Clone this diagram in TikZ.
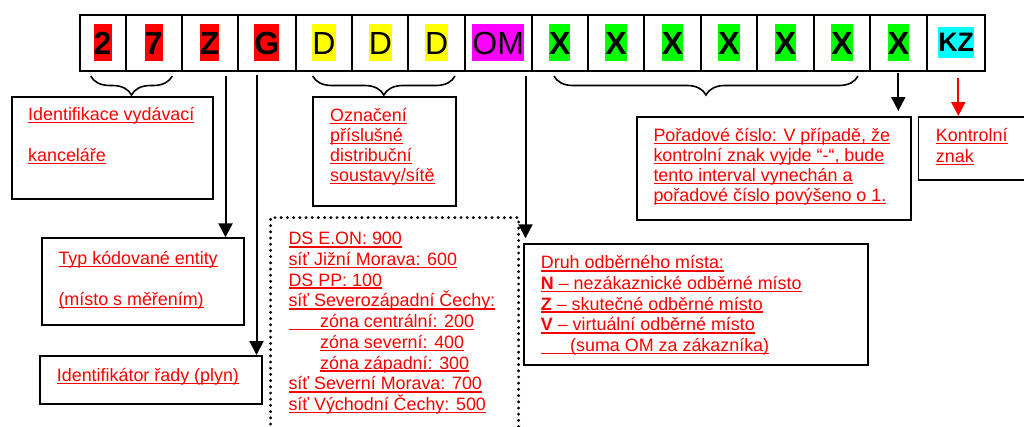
\documentclass[tikz,border=0pt]{standalone}
\usepackage{fontspec}
\setmainfont{Liberation Sans}
\usetikzlibrary{arrows.meta,decorations.pathreplacing}
\definecolor{hlred}{RGB}{255,0,0}
\definecolor{hlyellow}{RGB}{255,255,0}
\definecolor{hlmag}{RGB}{255,0,255}
\definecolor{hlgreen}{RGB}{0,255,0}
\definecolor{hlcyan}{RGB}{0,255,255}
\newcommand\ulx[1]{\leavevmode{\setbox0\hbox{#1}\rlap{\rule[-2.8pt]{\wd0}{1.6pt}}\box0}}
\newcommand\hlbox[2]{{\setlength\fboxsep{0pt}\colorbox{#1}{\rule[-6.5pt]{0pt}{37pt}#2}}}
\newcommand\hlsmall[2]{{\setlength\fboxsep{0pt}\colorbox{#1}{\rule[-6.7pt]{0pt}{31pt}#2}}}
\newcommand\txtlines[2]{\parbox[t]{360pt}{\baselineskip=#1\relax\leavevmode #2}}
\tikzset{
  cell/.style={draw, line width=2pt, inner sep=0pt, minimum height=56pt,
    font=\fontsize{32}{37}\selectfont},
  labelbox/.style={draw, line width=1.8pt, inner sep=0pt, anchor=north west},
  dotbox/.style={draw, line width=3.2pt, dash pattern=on 0pt off 6.2pt, line cap=round,
    inner sep=0pt, anchor=north west},
  lbl/.style={text=hlred, inner sep=0pt, anchor=base west, font=\fontsize{17.9}{20.5}\selectfont},
  bracestyle/.style={decorate, decoration={brace, mirror, amplitude=19pt}, line width=1.6pt},
  arr/.style={line width=2pt, -{Triangle[length=14pt,width=14pt]}},
  redarr/.style={arr, hlred},
}
\begin{document}
\begin{tikzpicture}[x=1pt,y=-1pt]
\useasboundingbox (0,0) rectangle (1024,426);
\clip (0,0) rectangle (1024,426);
% top row of cells
\node[cell, minimum width=46.2pt] (c1) at (102.6,42.7) {\hlbox{hlred}{\bfseries 2}};
\node[cell, minimum width=56pt] (c2) at (153.7,42.7) {\hlbox{hlred}{\bfseries 7}};
\node[cell, minimum width=56pt] (c3) at (209.7,42.7) {\hlbox{hlred}{\bfseries Z}};
\node[cell, minimum width=58pt] (c4) at (266.7,42.7) {\hlbox{hlred}{\bfseries G}};
\node[cell, minimum width=56.6pt] (c5) at (324,42.7) {\hlbox{hlyellow}{D}};
\node[cell, minimum width=56pt] (c6) at (380.3,42.7) {\hlbox{hlyellow}{D}};
\node[cell, minimum width=56.7pt] (c7) at (436.65,42.7) {\hlbox{hlyellow}{D}};
\node[cell, minimum width=66.5pt] (c8) at (498.25,42.7) {\hlbox{hlmag}{OM}};
\node[cell, minimum width=56.5pt] (c9) at (559.75,42.7) {\hlbox{hlgreen}{\bfseries X}};
\node[cell, minimum width=56.3pt] (c10) at (616.15,42.7) {\hlbox{hlgreen}{\bfseries X}};
\node[cell, minimum width=56.7pt] (c11) at (672.65,42.7) {\hlbox{hlgreen}{\bfseries X}};
\node[cell, minimum width=56.3pt] (c12) at (729.15,42.7) {\hlbox{hlgreen}{\bfseries X}};
\node[cell, minimum width=56.7pt] (c13) at (785.65,42.7) {\hlbox{hlgreen}{\bfseries X}};
\node[cell, minimum width=56pt] (c14) at (842,42.7) {\hlbox{hlgreen}{\bfseries X}};
\node[cell, minimum width=57.3pt] (c15) at (898.65,42.7) {\hlbox{hlgreen}{\bfseries X}};
\node[cell, minimum width=57.7pt] (c16) at (956.15,42.7) {\fontsize{26.7}{31}\selectfont\hlsmall{hlcyan}{\bfseries KZ}};

% label boxes
\node[labelbox, minimum width=201.6pt, minimum height=102pt] (b1) at (10.7,95.7) {};
\node[labelbox, minimum width=142.7pt, minimum height=109.3pt] (b2) at (312.3,95.7) {};
\node[labelbox, minimum width=274.3pt, minimum height=103pt] (b3) at (635.7,116) {};
\node[labelbox, minimum width=120pt, minimum height=63pt] (b4) at (917.5,116) {};
\node[labelbox, minimum width=202pt, minimum height=86.7pt] (b5) at (40.7,237.3) {};
\node[labelbox, minimum width=222pt, minimum height=47.7pt] (b6) at (39,355) {};
\node[labelbox, minimum width=344pt, minimum height=120.7pt] (b7) at (522.7,243.3) {};
\node[dotbox, minimum width=248pt, minimum height=240pt] (b8) at (269,216) {};

% texts
\node[lbl] (t1) at (28,120.5) {\txtlines{41pt}{\ulx{Identifikace vydávací}\\\ulx{kanceláře}}};
\node[lbl] (t2) at (330,121.5) {\txtlines{20pt}{\ulx{Označení}\\\ulx{příslušné}\\\ulx{distribuční}\\\ulx{soustavy/sítě}}};
\node[lbl] (t3) at (653.3,141.5) {\txtlines{20pt}{\ulx{Pořadové číslo: V případě, že}\\\ulx{kontrolní znak vyjde “-“, bude}\\\ulx{tento interval vynechán a}\\\ulx{pořadové číslo povýšeno o 1.}}};
\node[lbl] (t4) at (935.7,141.5) {\txtlines{21pt}{\ulx{Kontrolní}\\\ulx{znak}}};
\node[lbl] (t5) at (58.3,264.5) {\txtlines{41pt}{\ulx{Typ kódované entity}\\\ulx{(místo s měřením)}}};
\node[lbl] (t6) at (56.7,381.5) {\ulx{Identifikátor řady (plyn)}};
\node[lbl] (t7) at (540.7,268.8) {\txtlines{20.7pt}{\ulx{Druh odběrného místa:}\\\ulx{\textbf{N} – nezákaznické odběrné místo}\\\ulx{\textbf{Z} – skutečné odběrné místo}\\\ulx{\textbf{V} – virtuální odběrné místo}\\\ulx{\hspace*{29.3pt}(suma OM za zákazníka)}}};
\node[lbl] (t8) at (288.3,244.8) {\txtlines{20.7pt}{\ulx{DS E.ON: 900}\\\ulx{síť Jižní Morava: 600}\\\ulx{DS PP: 100}\\\ulx{síť Severozápadní Čechy:}\\\ulx{\hspace*{31.7pt}zóna centrální: 200}\\\hspace*{31.7pt}\ulx{zóna severní: 400}\\\hspace*{31.7pt}\ulx{zóna západní: 300}\\\ulx{síť Severní Morava: 700}\\\ulx{síť Východní Čechy: 500}}};

% braces
\coordinate (br1l) at (90.7,76);
\coordinate (br1r) at (172.3,76);
\coordinate (br2l) at (312.7,76);
\coordinate (br2r) at (455,76);
\coordinate (br3l) at (554,76);
\coordinate (br3r) at (858,76);
\draw[bracestyle] (br1l) -- (br1r);
\draw[bracestyle] (br2l) -- (br2r);
\draw[bracestyle] (br3l) -- (br3r);

% arrows
\coordinate (az) at (225.5,76);
\coordinate (ag) at (256.5,75);
\coordinate (aom) at (525.5,76);
\coordinate (ax) at (898.3,73);
\coordinate (akz) at (958.3,77.7);
\coordinate (axend) at (898.3,111);
\draw[arr] (az) -- (az |- b5.north);
\draw[arr] (ag) -- (ag |- b6.north);
\draw[arr] (aom) -- ([yshift=5pt]aom |- b7.north);
\draw[arr] (ax) -- (axend);
\draw[redarr] (akz) -- (akz |- b4.north);
\end{tikzpicture}
\end{document}
